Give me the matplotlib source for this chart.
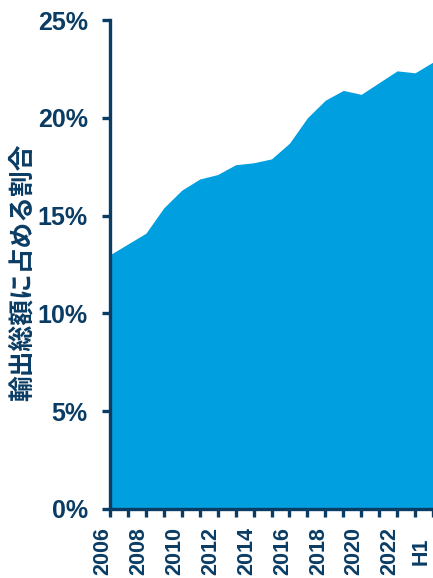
import numpy as np
import matplotlib.pyplot as plt
import matplotlib.transforms as mtransforms

years = ["2006", "2007", "2008", "2009", "2010", "2011", "2012", "2013", "2014",
         "2015", "2016", "2017", "2018", "2019", "2020", "2021", "2022", "2023", "H1\n2024"]
share = [13.0, 13.55, 14.1, 15.4, 16.3, 16.87, 17.1, 17.6, 17.7,
         17.9, 18.7, 20.0, 20.9, 21.4, 21.2, 21.8, 22.4, 22.3, 22.85]
tick_labels = ["2006", "", "2008", "", "2010", "", "2012", "", "2014", "",
               "2016", "", "2018", "", "2020", "", "2022", "", "H1\n2024"]
ylabel = "輸出総額に占める割合"

navy = "#0B3C64"
fill_col = "#009FDF"

fig = plt.figure(figsize=(4.33, 5.78), dpi=100)
ax = fig.add_axes([110 / 433, 1 - 509 / 578, (433 - 110) / 433, (509 - 20) / 578])

x = np.arange(len(years))
ax.fill_between(x, 0, share, color=fill_col, linewidth=0)

ax.set_xlim(0, len(years) - 1)
ax.set_ylim(0, 25)
ax.set_yticks([0, 5, 10, 15, 20, 25])
ax.set_yticklabels(["0%", "5%", "10%", "15%", "20%", "25%"])
ax.set_xticks(x)
ax.set_xticklabels(tick_labels, rotation=90, ha="center", va="top")

for s in ["top", "right"]:
    ax.spines[s].set_visible(False)
for s in ["left", "bottom"]:
    ax.spines[s].set_color(navy)
    ax.spines[s].set_linewidth(2.4)
    ax.spines[s].set_zorder(3)

ax.tick_params(axis="y", direction="out", length=6, width=2.4, color=navy, pad=10,
               labelsize=18, labelcolor=navy)
ax.tick_params(axis="x", direction="out", length=6, width=2.4, color=navy, pad=7,
               labelsize=15.5, labelcolor=navy)

for lab in ax.get_yticklabels():
    lab.set_fontfamily("Liberation Sans")
    lab.set_fontweight("bold")
labs = ax.get_xticklabels()
for i, lab in enumerate(labs):
    lab.set_fontfamily("Liberation Sans")
    lab.set_fontweight("bold")
    dx = -7 / 100 if i < len(labs) - 1 else 0
    lab.set_transform(lab.get_transform() + mtransforms.ScaledTranslation(dx, 0, fig.dpi_scale_trans))

fig.text(22 / 433, 1 - 272 / 578, ylabel, rotation=90, ha="center", va="center",
         fontsize=18.5, fontweight="bold", color=navy,
         family=["Noto Sans CJK JP", "DejaVu Sans"])

fig.savefig("out.png", dpi=100)
